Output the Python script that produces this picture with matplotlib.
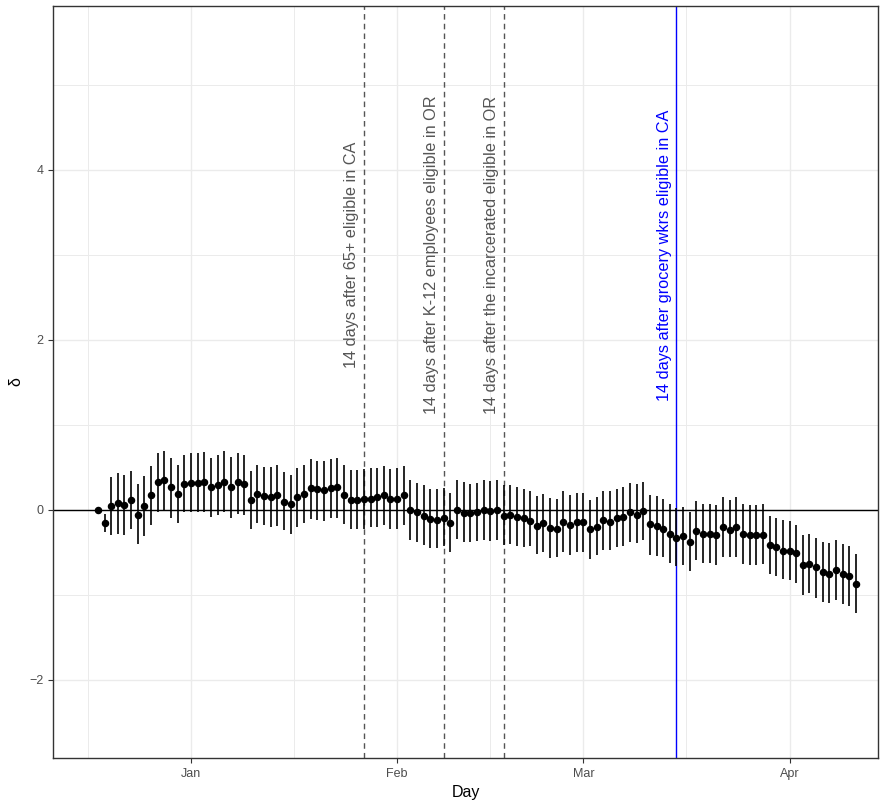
import numpy as np
import pandas as pd
import matplotlib
matplotlib.use("Agg")
import matplotlib.pyplot as plt
import matplotlib.dates as mdates
from matplotlib.ticker import FixedLocator

plt.rcParams["font.family"] = ["Liberation Sans", "DejaVu Sans"]

# one estimate per day
days = pd.date_range("2020-12-18", "2021-04-11", freq="D")

est = [
    0.00, -0.16, 0.04, 0.08, 0.06, 0.12, -0.06, 0.04, 0.17, 0.33,
    0.35, 0.27, 0.19, 0.31, 0.32, 0.32, 0.33, 0.27, 0.29, 0.33,
    0.27, 0.33, 0.31, 0.12, 0.19, 0.16, 0.15, 0.17, 0.09, 0.07,
    0.15, 0.19, 0.26, 0.24, 0.23, 0.26, 0.27, 0.17, 0.12, 0.12,
    0.13, 0.13, 0.15, 0.17, 0.13, 0.13, 0.17, 0.00, -0.02, -0.07,
    -0.11, -0.12, -0.09, -0.15, 0.00, -0.04, -0.04, -0.02, 0.00, -0.01,
    0.00, -0.07, -0.06, -0.08, -0.10, -0.13, -0.19, -0.16, -0.21, -0.22,
    -0.14, -0.18, -0.14, -0.14, -0.23, -0.20, -0.12, -0.14, -0.10, -0.08,
    -0.03, -0.06, -0.01, -0.17, -0.19, -0.22, -0.28, -0.33, -0.31, -0.38,
    -0.25, -0.28, -0.28, -0.29, -0.20, -0.24, -0.20, -0.28, -0.30, -0.29,
    -0.29, -0.41, -0.44, -0.48, -0.48, -0.51, -0.65, -0.64, -0.67, -0.73,
    -0.75, -0.71, -0.75, -0.78, -0.87,
]

upper = [
    0.00, -0.05, 0.39, 0.43, 0.41, 0.46, 0.31, 0.40, 0.52, 0.67,
    0.69, 0.61, 0.53, 0.65, 0.67, 0.67, 0.68, 0.61, 0.64, 0.69,
    0.62, 0.67, 0.65, 0.46, 0.53, 0.51, 0.51, 0.53, 0.44, 0.41,
    0.49, 0.53, 0.60, 0.58, 0.57, 0.60, 0.61, 0.53, 0.47, 0.47,
    0.48, 0.49, 0.49, 0.52, 0.48, 0.49, 0.52, 0.35, 0.32, 0.29,
    0.24, 0.24, 0.26, 0.20, 0.35, 0.33, 0.31, 0.32, 0.35, 0.34,
    0.35, 0.29, 0.29, 0.27, 0.24, 0.22, 0.16, 0.19, 0.14, 0.13,
    0.22, 0.17, 0.20, 0.20, 0.12, 0.15, 0.22, 0.22, 0.24, 0.27,
    0.32, 0.31, 0.33, 0.17, 0.16, 0.13, 0.07, 0.02, 0.03, -0.03,
    0.11, 0.07, 0.07, 0.06, 0.15, 0.12, 0.15, 0.07, 0.06, 0.06,
    0.07, -0.07, -0.09, -0.12, -0.13, -0.18, -0.30, -0.28, -0.33, -0.38,
    -0.39, -0.36, -0.40, -0.43, -0.52,
]

lower = [
    0.00, -0.26, -0.29, -0.28, -0.29, -0.22, -0.40, -0.31, -0.18, -0.02,
    -0.01, -0.09, -0.15, -0.03, -0.02, -0.02, -0.03, -0.08, -0.06, -0.02,
    -0.09, -0.05, -0.06, -0.23, -0.16, -0.18, -0.20, -0.19, -0.24, -0.28,
    -0.20, -0.16, -0.11, -0.12, -0.13, -0.10, -0.10, -0.17, -0.23, -0.23,
    -0.22, -0.20, -0.20, -0.18, -0.22, -0.22, -0.18, -0.36, -0.38, -0.41,
    -0.45, -0.45, -0.43, -0.49, -0.34, -0.38, -0.38, -0.37, -0.35, -0.37,
    -0.35, -0.41, -0.40, -0.42, -0.44, -0.43, -0.52, -0.50, -0.57, -0.56,
    -0.49, -0.53, -0.50, -0.50, -0.58, -0.53, -0.47, -0.47, -0.44, -0.42,
    -0.38, -0.39, -0.35, -0.53, -0.54, -0.56, -0.62, -0.66, -0.65, -0.72,
    -0.59, -0.62, -0.62, -0.65, -0.56, -0.56, -0.55, -0.64, -0.65, -0.65,
    -0.64, -0.75, -0.78, -0.81, -0.82, -0.86, -1.00, -0.98, -1.04, -1.08,
    -1.10, -1.06, -1.11, -1.13, -1.21,
]

# policy events (date the line is drawn at, label)
event_dates = ["2021-01-27", "2021-02-08", "2021-02-17"]
event_labels = [
    "14 days after 65+ eligible in CA",
    "14 days after K-12 employees eligible in OR",
    "14 days after the incarcerated eligible in OR",
]
focus_date = "2021-03-15"
focus_label = "14 days after grocery wkrs eligible in CA"

month_starts = pd.to_datetime(["2020-12-01", "2021-01-01", "2021-02-01",
                               "2021-03-01", "2021-04-01", "2021-05-01"])

est = np.array(est)
upper = np.array(upper)
lower = np.array(lower)
x = mdates.date2num(days)

fig = plt.figure(figsize=(8.8, 8.01), dpi=100)
ax = fig.add_axes([0.0602, 0.0537, 0.9375, 0.9388])

# grid (ggplot-like, major + minor)
major = mdates.date2num(month_starts)
minor = (major[:-1] + major[1:]) / 2
ax.xaxis.set_major_locator(FixedLocator(major[1:5]))
ax.xaxis.set_minor_locator(FixedLocator(minor))
ax.xaxis.set_major_formatter(mdates.DateFormatter("%b"))
ax.set_yticks([-2, 0, 2, 4])
ax.yaxis.set_minor_locator(FixedLocator([-3, -1, 1, 3, 5]))
ax.grid(which="major", color="#EBEBEB", lw=1.0)
ax.grid(which="minor", color="#EBEBEB", lw=0.7)
ax.set_axisbelow(True)
ax.tick_params(which="minor", length=0)
ax.tick_params(which="major", length=3.5, color="#333333", labelcolor="#4D4D4D",
               labelsize=9)

ax.axhline(0, color="black", lw=1.0, zorder=2)

for d, lab in zip(event_dates, event_labels):
    xd = mdates.date2num(pd.Timestamp(d))
    ax.axvline(xd, color="#555555", lw=1.0, ls=(0, (4, 3)), zorder=2)
    ax.annotate(lab, xy=(xd, 3), xytext=(-3.5, 0), textcoords="offset points",
                rotation=90, ha="right", va="center", color="#555555",
                fontsize=11.7)

xf = mdates.date2num(pd.Timestamp(focus_date))
ax.axvline(xf, color="blue", lw=1.0, zorder=2)
ax.annotate(focus_label, xy=(xf, 3), xytext=(-3, 0), textcoords="offset points",
            rotation=90, ha="right", va="center", color="blue", fontsize=11.7)

ax.errorbar(x, est, yerr=[est - lower, upper - est], fmt="o", color="black",
            ms=4.4, elinewidth=1.2, capsize=0, zorder=3)

ax.set_xlim(mdates.date2num(pd.Timestamp("2021-01-01")) - 20.75,
            mdates.date2num(pd.Timestamp("2021-01-01")) + 103.3)
ax.set_ylim(-2.92, 5.93)
ax.set_xlabel("Day", fontsize=11.5)
ax.set_ylabel("δ", fontsize=11.5)

for s in ax.spines.values():
    s.set_color("#333333")
    s.set_linewidth(1.0)

fig.savefig("out.png", dpi=100)
